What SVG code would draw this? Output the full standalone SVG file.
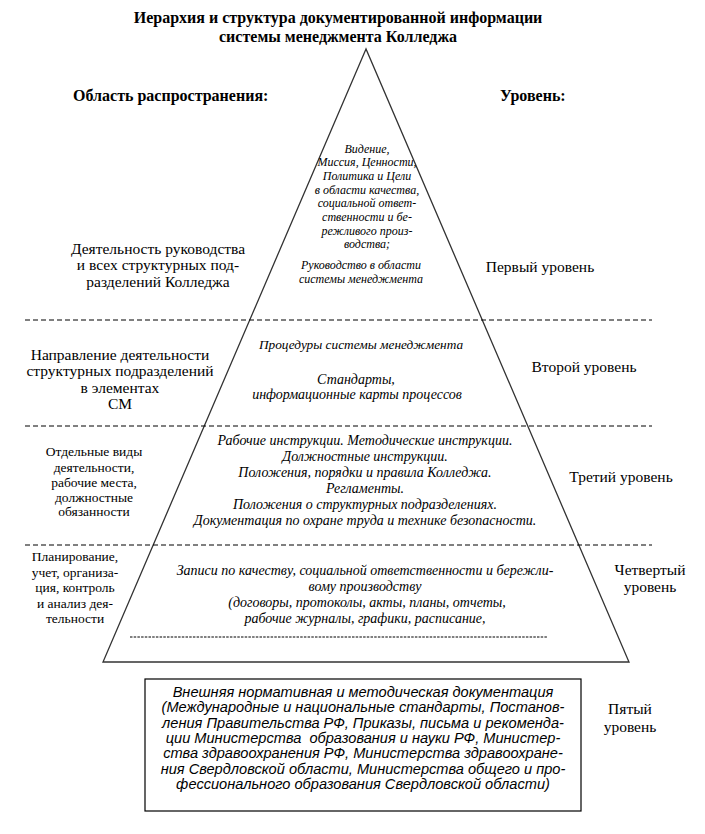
<svg xmlns="http://www.w3.org/2000/svg" width="705" height="834" viewBox="0 0 705 834">
<style>
  .serif { font-family: "Liberation Serif", "Times New Roman", serif; fill: #000; }
  .bold { font-weight: bold; font-size: 16px; }
  .lab { font-size: 15.5px; }
  .lab13 { font-size: 13.5px; }
  .it12 { font-style: italic; font-size: 12px; }
  .it13 { font-style: italic; font-size: 13.3px; }
  .it14 { font-style: italic; font-size: 14px; }
  .sans { font-family: "Liberation Sans", Arial, sans-serif; font-style: italic; font-size: 14.6px; fill: #000; }
  .sep { stroke: #000; stroke-width: 1; stroke-dasharray: 5 3; fill: none; }
  .hyph { stroke: #000; stroke-width: 1; stroke-dasharray: 2.5 1.2; fill: none; }
  .edge { stroke: #333; stroke-width: 1.3; fill: none; }
</style>
<rect x="0" y="0" width="705" height="834" fill="#fff"/>

<g id="title" class="serif bold" text-anchor="middle">
  <text x="338" y="23">Иерархия и структура документированной информации</text>
  <text x="338" y="42">системы менеджмента Колледжа</text>
</g>

<g id="header-scope" class="serif bold">
  <text x="73" y="101">Область распространения:</text>
</g>
<g id="header-level" class="serif bold">
  <text x="500" y="101">Уровень:</text>
</g>

<g id="pyramid">
  <polygon class="edge" points="366,49 103,662 629,662"/>
</g>

<g id="connectors">
  <line class="sep" x1="25" y1="320" x2="652" y2="320"/>
  <line class="sep" x1="25" y1="426" x2="652" y2="426"/>
  <line class="sep" x1="25" y1="545" x2="652" y2="545"/>
  <line class="hyph" x1="130" y1="637" x2="548" y2="637"/>
</g>

<g id="level1-content" class="serif it12" text-anchor="middle">
  <text x="367" y="153">Видение,</text>
  <text x="367" y="166">Миссия, Ценности,</text>
  <text x="367" y="180">Политика и Цели</text>
  <text x="367" y="194">в области качества,</text>
  <text x="367" y="207">социальной ответ-</text>
  <text x="367" y="221">ственности и бе-</text>
  <text x="367" y="235">режливого произ-</text>
  <text x="367" y="248">водства;</text>
  <text x="361" y="269">Руководство в области</text>
  <text x="361" y="283">системы менеджмента</text>
</g>

<g id="level2-content" class="serif" text-anchor="middle">
  <text class="it13" x="361" y="349">Процедуры системы менеджмента</text>
  <text class="it14" x="356" y="384">Стандарты,</text>
  <text class="it14" x="357" y="399">информационные карты процессов</text>
</g>

<g id="level3-content" class="serif it14" text-anchor="middle">
  <text x="365" y="445">Рабочие инструкции. Методические инструкции.</text>
  <text x="365" y="461">Должностные инструкции.</text>
  <text x="365" y="477">Положения, порядки и правила Колледжа.</text>
  <text x="365" y="493">Регламенты.</text>
  <text x="365" y="509">Положения о структурных подразделениях.</text>
  <text x="365" y="525">Документация по охране труда и технике безопасности.</text>
</g>

<g id="level4-content" class="serif it14" text-anchor="middle">
  <text x="365" y="575">Записи по качеству, социальной ответственности и бережли-</text>
  <text x="365" y="591">вому производству</text>
  <text x="367" y="607">(договоры, протоколы, акты, планы, отчеты,</text>
  <text x="365" y="623">рабочие журналы, графики, расписание,</text>
</g>

<g id="level5-box">
  <rect x="145" y="679" width="436" height="132" fill="none" stroke="#000" stroke-width="1.2"/>
  <g class="sans" text-anchor="middle">
    <text x="363" y="697">Внешняя нормативная и методическая документация</text>
    <text x="363" y="712">(Международные и национальные стандарты, Постанов-</text>
    <text x="363" y="728">ления Правительства РФ, Приказы, письма и рекоменда-</text>
    <text x="363" y="743" xml:space="preserve">ции Министерства  образования и науки РФ, Министер-</text>
    <text x="363" y="758">ства здравоохранения РФ, Министерства здравоохране-</text>
    <text x="363" y="774">ния Свердловской области, Министерства общего и про-</text>
    <text x="363" y="789">фессионального образования Свердловской области)</text>
  </g>
</g>

<g id="scope1" class="serif lab" text-anchor="middle">
  <text x="158" y="254">Деятельность руководства</text>
  <text x="158" y="270">и всех структурных под-</text>
  <text x="158" y="287">разделений Колледжа</text>
</g>
<g id="scope2" class="serif lab" text-anchor="middle">
  <text x="120" y="360">Направление деятельности</text>
  <text x="120" y="376">структурных подразделений</text>
  <text x="120" y="393">в элементах</text>
  <text x="120" y="409">СМ</text>
</g>
<g id="scope3" class="serif lab13" text-anchor="middle">
  <text x="94" y="456">Отдельные виды</text>
  <text x="94" y="472">деятельности,</text>
  <text x="94" y="487">рабочие места,</text>
  <text x="94" y="502">должностные</text>
  <text x="94" y="516">обязанности</text>
</g>
<g id="scope4" class="serif lab13" text-anchor="middle">
  <text x="75" y="561">Планирование,</text>
  <text x="75" y="577">учет, организа-</text>
  <text x="75" y="592">ция, контроль</text>
  <text x="75" y="608">и анализ дея-</text>
  <text x="75" y="623">тельности</text>
</g>

<g id="level1-label" class="serif lab" text-anchor="middle">
  <text x="540" y="272">Первый уровень</text>
</g>
<g id="level2-label" class="serif lab" text-anchor="middle">
  <text x="584" y="372">Второй уровень</text>
</g>
<g id="level3-label" class="serif lab" text-anchor="middle">
  <text x="621" y="482">Третий уровень</text>
</g>
<g id="level4-label" class="serif lab" text-anchor="middle">
  <text x="650" y="575">Четвертый</text>
  <text x="650" y="592">уровень</text>
</g>
<g id="level5-label" class="serif lab" text-anchor="middle">
  <text x="630" y="714">Пятый</text>
  <text x="630" y="732">уровень</text>
</g>
</svg>
